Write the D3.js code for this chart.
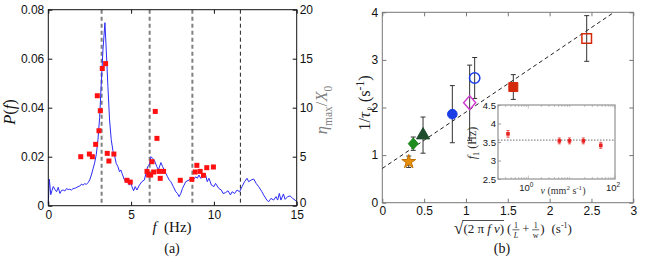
<!DOCTYPE html>
<html>
<head>
<meta charset="utf-8">
<script src="https://cdnjs.cloudflare.com/ajax/libs/d3/7.8.5/d3.min.js"></script>
<style>
  body { margin: 0; background: #fff; }
  svg { display: block; }
  text { font-family: "Liberation Sans", Arial, sans-serif; }
  .serif, .serif text { font-family: "Liberation Serif", "Times New Roman", serif; }
</style>
</head>
<body>
<svg id="chart" width="657" height="261"></svg>
<script>
(function() {

  'use strict';

  // panel (a): spectrum P(f)
  var specF = [0, 0.06, 0.15, 0.22, 0.3, 0.4, 0.5, 0.6, 0.7, 0.8, 0.9, 1.0, 1.1, 1.2, 1.3, 1.4, 1.5, 1.65, 1.8, 1.9,
    2.0, 2.1, 2.2, 2.3, 2.4, 2.5, 2.6, 2.7, 2.8, 2.9, 3.0, 3.1, 3.2, 3.3, 3.42, 3.5, 3.6, 3.7, 3.8, 3.9,
    4.0, 4.1, 4.2, 4.3, 4.38, 4.45, 4.6, 4.7, 4.8, 4.9, 5.0, 5.05, 5.15, 5.25, 5.35, 5.5, 5.65, 5.8, 5.9,
    6.0, 6.1, 6.2, 6.3, 6.4, 6.55, 6.65, 6.8, 6.9, 7.0, 7.1, 7.2, 7.3, 7.4, 7.55, 7.7, 7.8, 7.9,
    8.0, 8.1, 8.2, 8.3, 8.5, 8.65, 8.75, 8.9, 9.0, 9.1, 9.2, 9.35, 9.5, 9.6, 9.7, 9.85,
    10.0, 10.1, 10.3, 10.45, 10.55, 10.7, 10.85, 11.0, 11.1, 11.25, 11.4, 11.55, 11.7, 11.85,
    12.0, 12.1, 12.25, 12.4, 12.55, 12.7, 12.9, 13.0, 13.2, 13.3, 13.45, 13.6, 13.75, 13.85, 13.95,
    14.05, 14.2, 14.3, 14.45, 14.6, 14.75, 14.9, 15.0];
  var specP = [0.0008, 0.0108, 0.0045, 0.0062, 0.0078, 0.0066, 0.0057, 0.0075, 0.0050, 0.0062, 0.0064, 0.0060, 0.0070, 0.0066, 0.0067, 0.0064, 0.0070, 0.0072, 0.0078, 0.0080,
    0.0088, 0.0084, 0.0090, 0.0087, 0.0094, 0.0105, 0.0125, 0.0150, 0.0175, 0.0210, 0.0270, 0.0360, 0.0500, 0.0635, 0.0747, 0.0635, 0.0486, 0.0350, 0.0270, 0.0225,
    0.0205, 0.0173, 0.0160, 0.0139, 0.0146, 0.0132, 0.0105, 0.0098, 0.0095, 0.0084, 0.0094, 0.0078, 0.0061, 0.0078, 0.0064, 0.0084, 0.0098, 0.0105, 0.0132,
    0.0160, 0.0166, 0.0200, 0.0193, 0.0186, 0.0160, 0.0146, 0.0176, 0.0160, 0.0146, 0.0132, 0.0118, 0.0105, 0.0098, 0.0078, 0.0057, 0.0050, 0.0037,
    0.0050, 0.0070, 0.0084, 0.0098, 0.0105, 0.0112, 0.0105, 0.0118, 0.0112, 0.0125, 0.0112, 0.0118, 0.0125, 0.0098, 0.0112, 0.0084,
    0.0078, 0.0091, 0.0070, 0.0064, 0.0050, 0.0053, 0.0061, 0.0044, 0.0057, 0.0050, 0.0064, 0.0057, 0.0078, 0.0098,
    0.0112, 0.0098, 0.0105, 0.0109, 0.0091, 0.0078, 0.0057, 0.0044, 0.0023, 0.0016, 0.0030, 0.0023, 0.0037, 0.0023, 0.0050,
    0.0023, 0.0048, 0.0026, 0.0037, 0.0040, 0.0030, 0.0023, 0.0016];

  // panel (a): measured eta_max / X_0 (right axis)
  var etaF = [1.96, 2.48, 2.66, 2.86, 3.06, 3.14, 2.96, 3.26, 3.46, 3.56, 3.66, 3.96, 4.75, 4.95, 5.96, 6.06,
    6.18, 6.26, 6.36, 6.46, 6.56, 6.68, 6.76, 6.96, 7.97, 8.67, 8.87, 8.97, 9.17, 9.37, 9.57, 9.97];
  var etaVal = [5.0, 5.27, 5.0, 6.26, 7.65, 9.69, 11.22, 14.0, 14.5, 5.34, 4.56, 5.27, 2.59, 2.41, 3.5, 3.13,
    3.13, 4.49, 3.44, 9.62, 6.87, 3.5, 2.79, 3.5, 2.59, 2.69, 3.44, 4.12, 3.5, 3.1, 3.88, 3.95];

  // panel (a): harmonics of f1
  var harmonics = [3.22, 6.12, 8.7, 11.6];

  var ticksF = [0, 5, 10, 15];
  var ticksP = [0, 0.02, 0.04, 0.06, 0.08];
  var ticksEta = [0, 5, 10, 15, 20];

  // panel (b): damping rate vs viscous scaling
  var rateX = [0.316, 0.37, 0.487, 0.837, 1.044, 1.104, 1.566, 2.443];
  var rateY = [0.86, 1.24, 1.42, 1.86, 2.10, 2.62, 2.43, 3.45];
  var rateErr = [0.12, 0.14, 0.38, 0.60, 0.79, 0.43, 0.26, 0.48];
  var fitX = [0, 2.77];
  var fitY = [0.72, 4.0];
  var ticksX = [0, 0.5, 1, 1.5, 2, 2.5, 3];
  var ticksY = [0, 1, 2, 3, 4];

  // inset: f1 vs viscosity
  var nuVals = [0.34, 5.2, 8.9, 18.6, 47];
  var f1Vals = [3.72, 3.53, 3.53, 3.53, 3.41];
  var f1Err = [0.09, 0.08, 0.08, 0.08, 0.08];
  var f1Mean = [3.55];
  var ticksF1 = [2.5, 3, 3.5, 4, 4.5];
  var ticksNu = [1, 100];

  // marker look for each point of panel (b)
  var markers = [
    { shape: 'star', fill: '#e8900c', stroke: '#c07000', r: 6.5 },
    { shape: 'diamond', fill: '#1f8a1f', stroke: '#1f8a1f', r: 5 },
    { shape: 'triangle', fill: '#1e4d2e', stroke: '#1e4d2e', r: 5.8 },
    { shape: 'circle', fill: '#1a3ee6', stroke: '#1a3ee6', r: 4.8 },
    { shape: 'diamond', fill: 'none', stroke: '#d03cd0', r: 6 },
    { shape: 'circle', fill: 'none', stroke: '#1a3ee6', r: 5.2 },
    { shape: 'square', fill: '#d42a0c', stroke: '#d42a0c', r: 4.5 },
    { shape: 'square', fill: 'none', stroke: '#d42a0c', r: 4.8 }
  ];

  var NB = '\u00a0';
  var svg = d3.select('#chart');

  function styleAxis(g, size, colour) {
    g.select('.domain').remove();
    g.selectAll('line').attr('stroke', colour);
    g.selectAll('text').attr('font-size', size).attr('fill', '#111')
      .attr('font-family', '"Liberation Sans", Arial, sans-serif');
  }

  // math text via tspans
  function mathText(sel, parts, size) {
    var cur = 0;
    parts.forEach(function(p) {
      var ts = sel.append('tspan').text(p.t);
      var small = p.sub || p.sup;
      ts.attr('font-size', small ? size * 0.7 : size);
      if (p.it) ts.attr('font-style', 'italic');
      var shift = p.sub ? size * 0.28 : (p.sup ? -size * 0.38 : 0);
      ts.attr('dy', shift - cur);
      cur = shift;
    });
    return sel;
  }

  /* ---------------- panel (a) ---------------- */
  var xA = d3.scaleLinear().domain([0, 15]).range([48.3, 296.7]);
  var yA = d3.scaleLinear().domain([0, 0.08]).range([205.7, 9.7]);
  var yA2 = d3.scaleLinear().domain([0, 20]).range([205.7, 9.7]);

  var pa = svg.append('g');

  pa.selectAll('.harm')
    .data(harmonics)
    .enter().append('line')
    .attr('class', 'harm')
    .attr('x1', function(d) { return xA(d); })
    .attr('x2', function(d) { return xA(d); })
    .attr('y1', yA(0.08))
    .attr('y2', yA(0))
    .attr('stroke', function(d, i) { return i < 3 ? '#808080' : '#222'; })
    .attr('stroke-width', function(d, i) { return i < 3 ? 2 : 1; })
    .attr('stroke-dasharray', '4,3');

  var specLine = d3.line()
    .x(function(d) { return xA(d[0]); })
    .y(function(d) { return yA(d[1]); });

  pa.append('path')
    .datum(d3.zip(specF, specP))
    .attr('d', specLine)
    .attr('fill', 'none')
    .attr('stroke', '#2b2bf5')
    .attr('stroke-width', 1);

  pa.selectAll('.eta')
    .data(d3.zip(etaF, etaVal))
    .enter().append('rect')
    .attr('class', 'eta')
    .attr('x', function(d) { return xA(d[0]) - 2.5; })
    .attr('y', function(d) { return yA2(d[1]) - 2.5; })
    .attr('width', 5)
    .attr('height', 5)
    .attr('fill', '#ff1010');

  pa.append('rect')
    .attr('x', 48.3).attr('y', 9.7)
    .attr('width', 248.4).attr('height', 196)
    .attr('fill', 'none').attr('stroke', '#111').attr('stroke-width', 1);

  var aBottom = pa.append('g').attr('transform', 'translate(0,205.7)')
    .call(d3.axisBottom(xA).tickValues(ticksF).tickSize(-4).tickPadding(5).tickFormat(String));
  styleAxis(aBottom, 12, '#111');
  var aTop = pa.append('g').attr('transform', 'translate(0,9.7)')
    .call(d3.axisTop(xA).tickValues(ticksF).tickSize(-4).tickFormat(''));
  styleAxis(aTop, 12, '#111');
  var aLeft = pa.append('g').attr('transform', 'translate(48.3,0)')
    .call(d3.axisLeft(yA).tickValues(ticksP).tickSize(-4).tickPadding(4)
      .tickFormat(function(d) { return d === 0 ? '0' : d3.format('.2f')(d); }));
  styleAxis(aLeft, 12, '#111');
  var aRight = pa.append('g').attr('transform', 'translate(296.7,0)')
    .call(d3.axisRight(yA2).tickValues(ticksEta).tickSize(-4).tickPadding(3).tickFormat(String));
  styleAxis(aRight, 12, '#111');
  aRight.selectAll('text').attr('dy', function(d) { return d === 0 ? '0.1em' : '0.32em'; });

  mathText(pa.append('text').attr('class', 'serif')
    .attr('transform', 'translate(15,112) rotate(-90)')
    .attr('text-anchor', 'middle').attr('fill', '#111'),
    [{ t: 'P', it: true }, { t: '(' }, { t: 'f', it: true }, { t: ')' }], 16.5);

  mathText(pa.append('text').attr('class', 'serif')
    .attr('transform', 'translate(327,110) rotate(-90)')
    .attr('text-anchor', 'middle').attr('fill', '#808080'),
    [{ t: 'η', it: true }, { t: 'max', sub: true }, { t: '/' }, { t: 'X', it: true }, { t: '0', sub: true }], 16.5);

  mathText(pa.append('text').attr('class', 'serif')
    .attr('x', 172).attr('y', 232).attr('text-anchor', 'middle').attr('fill', '#111'),
    [{ t: 'f', it: true }, { t: NB + NB + '(Hz)' }], 15);

  pa.append('text').attr('class', 'serif')
    .attr('x', 172).attr('y', 253).attr('text-anchor', 'middle')
    .attr('font-size', 14).attr('fill', '#111').text('(a)');

  /* ---------------- panel (b) ---------------- */
  var xB = d3.scaleLinear().domain([0, 3]).range([382.3, 633.3]);
  var yB = d3.scaleLinear().domain([0, 4]).range([202.7, 12.3]);

  var pb = svg.append('g');

  pb.append('rect')
    .attr('x', 382.3).attr('y', 12.3)
    .attr('width', 251).attr('height', 190.4)
    .attr('fill', 'none').attr('stroke', '#777').attr('stroke-width', 1);

  var bBottom = pb.append('g').attr('transform', 'translate(0,202.7)')
    .call(d3.axisBottom(xB).tickValues(ticksX).tickSize(-4).tickPadding(4).tickFormat(String));
  styleAxis(bBottom, 12, '#777');
  var bTop = pb.append('g').attr('transform', 'translate(0,12.3)')
    .call(d3.axisTop(xB).tickValues(ticksX).tickSize(-4).tickFormat(''));
  styleAxis(bTop, 12, '#777');
  var bLeft = pb.append('g').attr('transform', 'translate(382.3,0)')
    .call(d3.axisLeft(yB).tickValues(ticksY).tickSize(-4).tickPadding(4).tickFormat(String));
  styleAxis(bLeft, 12, '#777');
  var bRight = pb.append('g').attr('transform', 'translate(633.3,0)')
    .call(d3.axisRight(yB).tickValues(ticksY).tickSize(-4).tickFormat(''));
  styleAxis(bRight, 12, '#777');

  pb.append('line')
    .attr('x1', xB(fitX[0])).attr('y1', yB(fitY[0]))
    .attr('x2', xB(fitX[1])).attr('y2', yB(fitY[1]))
    .attr('stroke', '#222').attr('stroke-width', 1)
    .attr('stroke-dasharray', '4,3');

  var pts = d3.range(rateX.length).map(function(i) {
    return { x: rateX[i], y: rateY[i], e: rateErr[i], m: markers[i] };
  });

  var eb = pb.selectAll('.err').data(pts).enter().append('g').attr('class', 'err')
    .attr('stroke', '#333').attr('stroke-width', 1);
  eb.append('line')
    .attr('x1', function(d) { return xB(d.x); }).attr('x2', function(d) { return xB(d.x); })
    .attr('y1', function(d) { return yB(d.y + d.e); }).attr('y2', function(d) { return yB(d.y - d.e); });
  eb.append('line')
    .attr('x1', function(d) { return xB(d.x) - 2.5; }).attr('x2', function(d) { return xB(d.x) + 2.5; })
    .attr('y1', function(d) { return yB(d.y + d.e); }).attr('y2', function(d) { return yB(d.y + d.e); });
  eb.append('line')
    .attr('x1', function(d) { return xB(d.x) - 2.5; }).attr('x2', function(d) { return xB(d.x) + 2.5; })
    .attr('y1', function(d) { return yB(d.y - d.e); }).attr('y2', function(d) { return yB(d.y - d.e); });

  function markerPath(m) {
    var r = m.r;
    if (m.shape === 'diamond') return 'M0,' + (-r * 1.15) + 'L' + r + ',0L0,' + (r * 1.15) + 'L' + (-r) + ',0Z';
    if (m.shape === 'square') return 'M' + (-r) + ',' + (-r) + 'h' + 2 * r + 'v' + 2 * r + 'h' + (-2 * r) + 'Z';
    if (m.shape === 'circle') return d3.symbol(d3.symbolCircle, Math.PI * r * r)();
    if (m.shape === 'triangle') return d3.symbol(d3.symbolTriangle, r * r * 2.2)();
    return d3.symbol(d3.symbolStar, r * r * 1.4)();
  }

  pb.selectAll('.mk').data(pts).enter().append('path')
    .attr('class', 'mk')
    .attr('transform', function(d) { return 'translate(' + xB(d.x) + ',' + yB(d.y) + ')'; })
    .attr('d', function(d) { return markerPath(d.m); })
    .attr('fill', function(d) { return d.m.fill; })
    .attr('stroke', function(d) { return d.m.stroke; })
    .attr('stroke-width', function(d) { return d.m.fill === 'none' ? 1.5 : 1; });

  mathText(pb.append('text').attr('class', 'serif')
    .attr('transform', 'translate(370,103) rotate(-90)')
    .attr('text-anchor', 'middle').attr('fill', '#222'),
    [{ t: '1/' }, { t: 'τ', it: true }, { t: 'ℓ', sub: true }, { t: NB + '(s' }, { t: '-1', sup: true }, { t: ')' }], 16.5);

  // x label: sqrt(2 pi f nu) (1/L + 1/w) (s^-1)
  var xl = pb.append('g').attr('class', 'serif').attr('fill', '#222');
  var cx = 0;
  function piece(txt, fs, it, y) {
    var t = xl.append('text').attr('x', cx).attr('y', y || 0).attr('font-size', fs).text(txt);
    if (it) t.attr('font-style', 'italic');
    var w = t.node().getComputedTextLength();
    cx += w;
    return w;
  }
  function frac(top, bot, itBot) {
    var w = 7;
    xl.append('text').attr('x', cx + w / 2).attr('y', -5).attr('font-size', 8)
      .attr('text-anchor', 'middle').text(top);
    var b = xl.append('text').attr('x', cx + w / 2).attr('y', 5).attr('font-size', 8)
      .attr('text-anchor', 'middle').text(bot);
    if (itBot) b.attr('font-style', 'italic');
    xl.append('line').attr('x1', cx).attr('x2', cx + w).attr('y1', -3.2).attr('y2', -3.2)
      .attr('stroke', '#222').attr('stroke-width', 0.7);
    cx += w;
  }
  piece('√', 17, false, 1);
  var ovStart = cx;
  piece('(2' + NB + 'π' + NB, 13);
  piece('f', 13, true);
  cx += 3;
  piece('ν', 13, true);
  piece(')', 13);
  xl.append('line').attr('x1', ovStart - 1).attr('x2', cx).attr('y1', -12.5).attr('y2', -12.5)
    .attr('stroke', '#222').attr('stroke-width', 0.8);
  cx += 3;
  piece('(', 13);
  cx += 1;
  frac('1', 'L', true);
  piece(NB + '+' + NB, 12);
  frac('1', 'w', false);
  cx += 1;
  piece(')', 13);
  cx += 7;
  piece('(s', 13);
  piece('-1', 8, false, -5);
  piece(')', 13);
  xl.attr('transform', 'translate(' + (513 - cx / 2) + ',233)');

  pb.append('text').attr('class', 'serif')
    .attr('x', 502).attr('y', 253).attr('text-anchor', 'middle')
    .attr('font-size', 14).attr('fill', '#111').text('(b)');

  /* ---------------- inset ---------------- */
  var xI = d3.scaleLog().domain([0.2, 100]).range([498, 615]);
  var yI = d3.scaleLinear().domain([2.5, 4.5]).range([179, 105]);

  var ins = svg.append('g');
  ins.append('rect')
    .attr('x', 498).attr('y', 105).attr('width', 117).attr('height', 74)
    .attr('fill', '#fff').attr('stroke', '#9a9a9a').attr('stroke-width', 1.3);

  var minor = [];
  [0.1, 1, 10].forEach(function(dec) {
    for (var k = 2; k <= 9; k++) {
      var v = dec * k;
      if (v >= 0.2 && v <= 100) minor.push(v);
    }
  });
  [[179, -1], [105, 1]].forEach(function(side) {
    ins.selectAll(null).data(minor).enter().append('line')
      .attr('x1', function(d) { return xI(d); }).attr('x2', function(d) { return xI(d); })
      .attr('y1', side[0]).attr('y2', side[0] + side[1] * 2)
      .attr('stroke', '#9a9a9a').attr('stroke-width', 0.6);
    ins.selectAll(null).data(ticksNu).enter().append('line')
      .attr('x1', function(d) { return xI(d); }).attr('x2', function(d) { return xI(d); })
      .attr('y1', side[0]).attr('y2', side[0] + side[1] * 3.5)
      .attr('stroke', '#9a9a9a').attr('stroke-width', 0.6);
  });

  var iLeft = ins.append('g').attr('transform', 'translate(498,0)')
    .call(d3.axisLeft(yI).tickValues(ticksF1).tickSize(-3).tickPadding(2).tickFormat(String));
  styleAxis(iLeft, 9.5, '#9a9a9a');

  ins.selectAll('.nutick').data(ticksNu).enter().append('text')
    .attr('class', 'nutick')
    .attr('x', function(d) { return xI(d) - 2; }).attr('y', 191)
    .attr('text-anchor', 'middle').attr('font-size', 9.5).attr('fill', '#222')
    .each(function(d) {
      var t = d3.select(this);
      t.append('tspan').text('10');
      t.append('tspan').attr('font-size', 6.5).attr('dy', -4).text(String(Math.round(Math.log10(d))));
    });

  ins.selectAll('.mean').data(f1Mean).enter().append('line')
    .attr('class', 'mean')
    .attr('x1', 498).attr('x2', 615)
    .attr('y1', function(d) { return yI(d); }).attr('y2', function(d) { return yI(d); })
    .attr('stroke', '#8a8a8a').attr('stroke-width', 1.2).attr('stroke-dasharray', '1.5,1.5');

  var ipts = d3.range(nuVals.length).map(function(i) {
    return { x: nuVals[i], y: f1Vals[i], e: f1Err[i] };
  });
  var ieb = ins.selectAll('.ierr').data(ipts).enter().append('g').attr('class', 'ierr')
    .attr('stroke', '#e83030').attr('stroke-width', 0.8);
  ieb.append('line')
    .attr('x1', function(d) { return xI(d.x); }).attr('x2', function(d) { return xI(d.x); })
    .attr('y1', function(d) { return yI(d.y + d.e); }).attr('y2', function(d) { return yI(d.y - d.e); });
  [1, -1].forEach(function(s) {
    ieb.append('line')
      .attr('x1', function(d) { return xI(d.x) - 1.5; }).attr('x2', function(d) { return xI(d.x) + 1.5; })
      .attr('y1', function(d) { return yI(d.y + s * d.e); }).attr('y2', function(d) { return yI(d.y + s * d.e); });
  });
  ins.selectAll('.ipt').data(ipts).enter().append('rect')
    .attr('class', 'ipt')
    .attr('x', function(d) { return xI(d.x) - 1.8; })
    .attr('y', function(d) { return yI(d.y) - 1.8; })
    .attr('width', 3.6).attr('height', 3.6).attr('fill', '#e82020');

  mathText(ins.append('text').attr('class', 'serif')
    .attr('transform', 'translate(476,143) rotate(-90)')
    .attr('text-anchor', 'middle').attr('fill', '#333'),
    [{ t: 'f', it: true }, { t: '1', sub: true }, { t: NB + '(Hz)' }], 12);

  mathText(ins.append('text').attr('class', 'serif')
    .attr('x', 563).attr('y', 194).attr('text-anchor', 'middle').attr('fill', '#333'),
    [{ t: 'ν', it: true }, { t: NB + '(mm' }, { t: '2', sup: true }, { t: NB + 's' }, { t: '-1', sup: true }, { t: ')' }], 10);

})();
</script>
</body>
</html>
